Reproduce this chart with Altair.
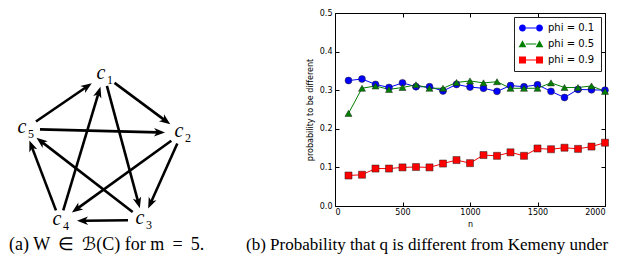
import math
import altair as alt
import pandas as pd

# ---------------- data: right panel (line chart) ----------------
n_values = [100, 200, 300, 400, 500, 600, 700, 800, 900, 1000,
            1100, 1200, 1300, 1400, 1500, 1600, 1700, 1800, 1900, 2000]
series_labels = ["phi = 0.1", "phi = 0.5", "phi = 0.9"]
prob_phi01 = [0.325, 0.329, 0.315, 0.307, 0.319, 0.309, 0.309, 0.298, 0.315, 0.308,
              0.305, 0.297, 0.312, 0.309, 0.314, 0.297, 0.281, 0.302, 0.301, 0.300]
prob_phi05 = [0.240, 0.305, 0.311, 0.302, 0.307, 0.314, 0.305, 0.305, 0.320, 0.324,
              0.319, 0.322, 0.305, 0.305, 0.305, 0.319, 0.307, 0.307, 0.311, 0.297]
prob_phi09 = [0.079, 0.081, 0.097, 0.097, 0.100, 0.101, 0.100, 0.110, 0.119, 0.111,
              0.132, 0.130, 0.139, 0.130, 0.149, 0.147, 0.151, 0.148, 0.154, 0.164]
x_ticks = [0, 500, 1000, 1500, 2000]
y_ticks = [0.0, 0.1, 0.2, 0.3, 0.4, 0.5]

# ---------------- data: left panel (tournament diagram) ----------------
node_ids = ["1", "2", "3", "4", "5"]
node_x = [103, 181, 142, 59, 24]
node_y = [74, 132, 219, 220, 128]
edge_from = ["5", "1", "5", "1", "2", "2", "3", "4", "4", "3"]
edge_to = ["1", "2", "2", "3", "3", "4", "4", "1", "5", "5"]

caption_a = "(a) W\u2009 \u2208 \u2009\u212c(C) for m\u2009 = \u20095."
caption_b = "(b) Probability that q is different from Kemeny under"

# ---------------- build tables ----------------
rows = []
for lab, vals in zip(series_labels, [prob_phi01, prob_phi05, prob_phi09]):
    for n, p in zip(n_values, vals):
        rows.append({"n": n, "prob": p, "phi": lab})
df = pd.DataFrame(rows)

colors = ["#0000ff", "#008000", "#ff0000"]
marker_shapes = ["circle", "triangle-up", "square"]
marker_sizes = [48, 50, 50]
bar = " M-1.5,-0.17 L1.5,-0.17 L1.5,0.17 L-1.5,0.17 Z"
legend_shapes = [
    "M-3.43,0 A1,1 0 1,0 -1.43,0 A1,1 0 1,0 -3.43,0 Z M1.43,0 A1,1 0 1,0 3.43,0 A1,1 0 1,0 1.43,0 Z" + bar,
    "M-2.43,-1.1 L-1.33,0.9 L-3.53,0.9 Z M2.43,-1.1 L3.53,0.9 L1.33,0.9 Z" + bar,
    "M-3.43,-1 L-1.43,-1 L-1.43,1 L-3.43,1 Z M1.43,-1 L3.43,-1 L3.43,1 L1.43,1 Z" + bar,
]

FONT = "DejaVu Sans"
W, H = 270, 193

xs = alt.Scale(domain=[0, 2000], nice=False, zero=False)
ys = alt.Scale(domain=[0, 0.5], nice=False, zero=True)
cscale = alt.Scale(domain=series_labels, range=colors)

lines = alt.Chart(df).mark_line(strokeWidth=1).encode(
    x=alt.X("n:Q", scale=xs, axis=alt.Axis(
        orient="bottom", values=x_ticks, format="d", offset=-4, tickSize=4, domain=False,
        grid=False, labelPadding=2, labelFont=FONT, labelFontSize=8, labelColor="#000",
        tickColor="#000", title="n", titleFont=FONT, titleFontSize=8,
        titleFontWeight="normal", titlePadding=4, titleColor="#000")),
    y=alt.Y("prob:Q", scale=ys, axis=alt.Axis(
        orient="left", values=y_ticks, format=".1f", offset=-4, tickSize=4, domain=False,
        grid=False, labelPadding=3, labelFont=FONT, labelFontSize=8, labelColor="#000",
        tickColor="#000", title="probability to be different", titleFont=FONT,
        titleFontSize=8, titleFontWeight="normal", titlePadding=5, titleColor="#000")),
    color=alt.Color("phi:N", scale=cscale, legend=None),
    detail="phi:N",
)

points = alt.Chart(df).mark_point(filled=True, opacity=1, stroke="#222", strokeWidth=0.5).encode(
    x=alt.X("n:Q", scale=xs, axis=alt.Axis(
        orient="top", values=x_ticks, offset=-4, tickSize=4, domain=False, grid=False,
        labels=False, tickColor="#000", title=None)),
    y=alt.Y("prob:Q", scale=ys, axis=alt.Axis(
        orient="right", values=y_ticks, offset=-4, tickSize=4, domain=False, grid=False,
        labels=False, tickColor="#000", title=None)),
    color=alt.Color("phi:N", scale=cscale, legend=None),
    shape=alt.Shape("phi:N", scale=alt.Scale(domain=series_labels, range=marker_shapes), legend=None),
    size=alt.Size("phi:N", scale=alt.Scale(domain=series_labels, range=marker_sizes), legend=None),
)

leg = alt.Legend(
    title=None, orient="top-right", offset=4, padding=6, strokeColor="#222",
    fillColor="white", labelFont=FONT, labelFontSize=10, labelColor="#000",
    symbolOffset=6, labelOffset=12, rowPadding=6, symbolSize=49, symbolStrokeWidth=0,
)
legend_proxy = alt.Chart(df).transform_filter("false").mark_point(
    filled=True, opacity=1, size=49, strokeWidth=0
).encode(
    x=alt.X("n:Q", scale=xs, axis=None),
    y=alt.Y("prob:Q", scale=ys, axis=None),
    color=alt.Color("phi:N", scale=cscale, legend=leg),
    shape=alt.Shape("phi:N", scale=alt.Scale(domain=series_labels, range=legend_shapes), legend=leg),
)

right = alt.layer(lines, points, legend_proxy).resolve_scale(
    color="independent", shape="independent", size="independent"
).properties(
    width=W, height=H,
    view=alt.ViewBackground(stroke="#000", strokeWidth=1),
    title=alt.TitleParams(text=caption_b, orient="bottom", anchor="start", frame="group",
                          dx=-89, offset=9, font="Liberation Serif", fontSize=17,
                          fontWeight="normal", color="#000"),
)

# ---------------- diagram ----------------
pos = {k: (x, y) for k, x, y in zip(node_ids, node_x, node_y)}
nodes = pd.DataFrame({"id": node_ids, "x": node_x, "y": node_y})


def ell(ux, uy, a, b):
    return 1.0 / math.sqrt((ux / a) ** 2 + (uy / b) ** 2)


erows = []
for a_, b_ in zip(edge_from, edge_to):
    x0, y0 = pos[a_]
    x1, y1 = pos[b_]
    dx, dy = x1 - x0, y1 - y0
    L = math.hypot(dx, dy)
    ux, uy = dx / L, dy / L
    g0 = ell(ux, uy, 15, 11)
    g1 = ell(ux, uy, 17, 12)
    sx, sy = x0 + ux * g0, y0 + uy * g0
    tx, ty = x1 - ux * g1, y1 - uy * g1
    ex, ey = tx - ux * 7, ty - uy * 7
    ang = math.degrees(math.atan2(ux, -uy)) % 360
    erows.append({"sx": sx, "sy": sy, "ex": ex, "ey": ey, "tx": tx, "ty": ty, "ang": ang})
edges = pd.DataFrame(erows)

DW, DH = 230, 193
dxs = alt.Scale(domain=[8, 8 + DW], nice=False, zero=False)
dys = alt.Scale(domain=[12, 12 + DH], nice=False, zero=False, reverse=True)

shafts = alt.Chart(edges).mark_rule(color="#000", strokeWidth=2.6).encode(
    x=alt.X("sx:Q", scale=dxs, axis=None), y=alt.Y("sy:Q", scale=dys, axis=None),
    x2="ex:Q", y2="ey:Q",
)
heads = alt.Chart(edges).mark_point(
    shape="M0,0 L0.85,2.2 L0,1.6 L-0.85,2.2 Z", filled=True, opacity=1, color="#000", size=100
).encode(
    x=alt.X("tx:Q", scale=dxs, axis=None), y=alt.Y("ty:Q", scale=dys, axis=None),
    angle=alt.Angle("ang:Q", scale=None),
)
c_letters = alt.Chart(nodes).mark_text(
    text="c", font="Liberation Serif", fontStyle="italic", fontSize=20, dx=-3, dy=-2,
    color="#000"
).encode(x=alt.X("x:Q", scale=dxs, axis=None), y=alt.Y("y:Q", scale=dys, axis=None))
c_subs = alt.Chart(nodes).mark_text(
    font="Liberation Serif", fontSize=12, dx=6, dy=5, color="#000"
).encode(x=alt.X("x:Q", scale=dxs, axis=None), y=alt.Y("y:Q", scale=dys, axis=None),
         text="id:N")

left = alt.layer(shafts, heads, c_letters, c_subs).properties(
    width=DW, height=DH,
    view=alt.ViewBackground(stroke="transparent"),
    title=alt.TitleParams(text=caption_a, orient="bottom", anchor="start", frame="group",
                          offset=4, font="Liberation Serif", fontSize=18,
                          fontWeight="normal", color="#000"),
)

chart = alt.hconcat(left, right, spacing=96, bounds="flush").properties(padding=0)

chart.save("out.html", embed_options={"renderer": "svg", "actions": False})
